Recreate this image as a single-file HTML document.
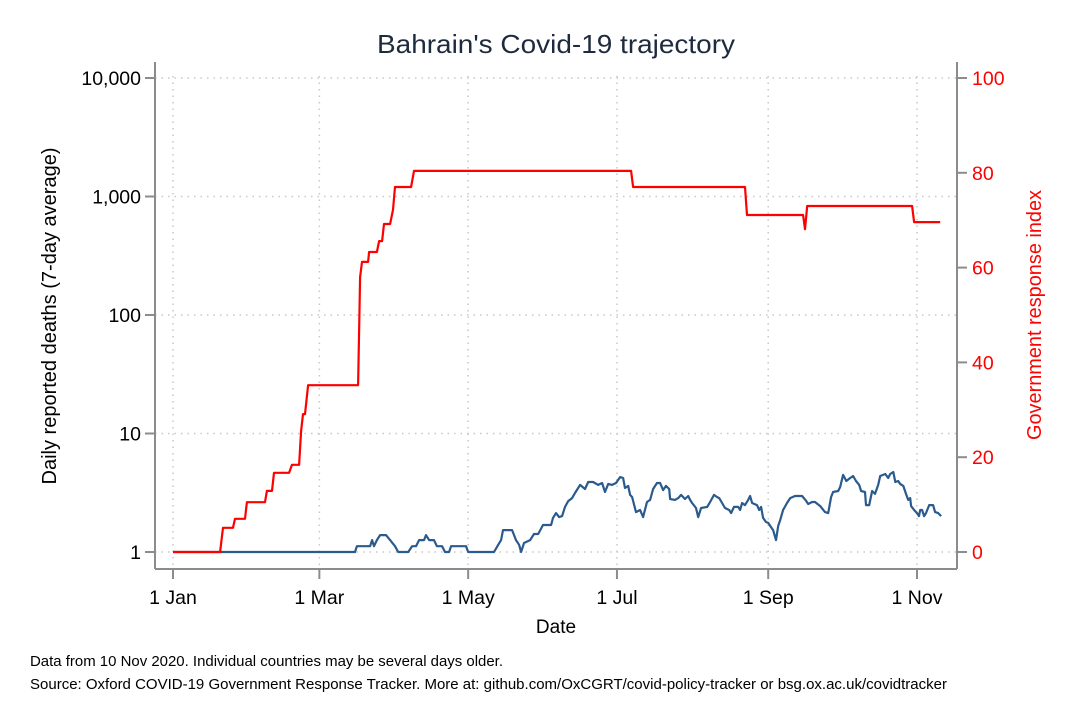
<!DOCTYPE html>
<html><head><meta charset="utf-8"><style>
body{margin:0;background:#fff;}
svg text{font-family:"Liberation Sans",Arial,sans-serif;}
</style></head><body>
<svg id="chart" width="1083" height="722" viewBox="0 0 1083 722" xmlns="http://www.w3.org/2000/svg">
<rect width="1083" height="722" fill="#fff"/>
<g id="grid"></g>
<g id="axes"></g>
<g id="series"></g>
<text x="556" y="53" font-size="26" fill="#1e2a3e" text-anchor="middle" textLength="358" lengthAdjust="spacingAndGlyphs">Bahrain's Covid-19 trajectory</text>
<text x="556" y="633" font-size="19" fill="#000" text-anchor="middle">Date</text>
<text transform="translate(56,316) rotate(-90)" font-size="20" fill="#000" text-anchor="middle" textLength="337" lengthAdjust="spacingAndGlyphs">Daily reported deaths (7-day average)</text>
<text transform="translate(1041,315) rotate(-90)" font-size="20" fill="#ff0000" text-anchor="middle" textLength="250" lengthAdjust="spacingAndGlyphs">Government response index</text>
<text x="30" y="666" font-size="14.5" fill="#000" textLength="473" lengthAdjust="spacingAndGlyphs">Data from 10 Nov 2020. Individual countries may be several days older.</text>
<text x="30" y="689" font-size="14.5" fill="#000" textLength="917" lengthAdjust="spacingAndGlyphs">Source: Oxford COVID-19 Government Response Tracker. More at: github.com/OxCGRT/covid-policy-tracker or bsg.ox.ac.uk/covidtracker</text>
</svg>
<script>
const xTickDays=[0,60,121,182,244,305];
const xTickLabels=["1 Jan","1 Mar","1 May","1 Jul","1 Sep","1 Nov"];
const leftTicks=[1,10,100,1000,10000];
const leftTickLabels=["1","10","100","1,000","10,000"];
const rightTicks=[0,20,40,60,80,100];
const redDays=[0,19.3,20.5,24.6,25.4,29.5,30.3,37.7,38.5,40.6,41.4,47.6,48.8,51.7,52.5,53.3,54.1,55.4,75.9,76.7,77.5,80,80.4,83.6,84.5,85.7,86.5,89,90.2,91,97.6,98.8,187.8,188.6,234.5,235.3,258.3,259.1,260,303,303.8,314.5];
const redValues=[0,0,5.1,5.1,7.0,7.0,10.5,10.5,12.9,12.9,16.7,16.7,18.4,18.4,25.5,29.1,29.1,35.2,35.2,58.0,61.2,61.2,63.3,63.3,65.6,65.6,69.2,69.2,72.2,77.0,77.0,80.4,80.4,77.0,77.0,71.1,71.1,68.1,73.0,73.0,69.6,69.6];
const blueDays=[0,74.6,75.4,80.8,81.6,82.4,83.6,84.9,87.3,89,91,92.3,96.4,98,99.6,100.9,102.9,103.7,105,107,108.2,110.3,111.5,113.2,114,120.1,121,131.6,133.3,134.5,135.3,139,140.6,141.9,142.7,143.9,146.4,148,149.7,151.7,155,155.8,157,158.3,159.5,160.7,162,163.6,164.8,166.9,168.9,170.2,172.2,174.3,175.9,177.1,178.4,180,181.6,183.3,184.5,185.3,186.6,187.4,188.2,189.8,191.5,192.7,194.3,195.6,196.8,198.4,199.7,200.9,202.1,203.4,203.8,205.8,207.1,208.3,209.9,211.2,212,212.8,214.4,215.3,216.5,219,220.2,221.8,223,223.9,225.1,226.3,228,228.8,230,231.7,232.5,233.3,234.5,235.8,236.6,237.4,239.4,240.3,241.1,241.9,243.1,244,244.8,246,247.2,248.1,248.9,250.1,251.7,253,255,257.9,259.6,260.4,262,263.2,265.3,267.3,268.6,269.8,270.6,272.7,273.5,274.7,276,277.6,278.8,280,281.3,282.1,283.7,284.1,285.4,286.6,287.8,289.1,289.9,292,293.2,294,295.3,296.1,297.3,298.1,299.4,300.5,301.4,302.2,302.6,303.8,305,305.8,306.3,307.1,307.9,308.7,310,311.6,312.4,313.7,314.9];
const blueValues=[1,1,1.12,1.12,1.26,1.12,1.26,1.39,1.39,1.26,1.12,1,1,1.12,1.12,1.26,1.26,1.39,1.26,1.26,1.12,1.12,1,1,1.12,1.12,1,1,1.15,1.26,1.53,1.53,1.26,1.15,1,1.19,1.26,1.42,1.42,1.69,1.69,1.94,2.13,1.97,2.01,2.40,2.69,2.85,3.15,3.68,3.40,3.90,3.90,3.68,3.82,3.21,3.75,3.68,3.82,4.29,4.21,3.47,3.61,3.03,2.91,2.17,2.26,1.97,2.64,2.75,3.40,3.82,3.82,3.33,3.61,3.40,2.80,2.75,2.85,3.03,2.80,2.97,2.75,2.59,2.35,1.97,2.35,2.40,2.64,3.03,2.91,2.85,2.59,2.35,2.26,2.13,2.40,2.40,2.26,2.59,2.49,2.75,2.97,2.59,2.49,2.26,2.40,1.94,1.79,1.76,1.66,1.53,1.26,1.66,1.86,2.26,2.59,2.85,2.97,2.97,2.69,2.54,2.64,2.64,2.44,2.17,2.13,2.91,3.21,3.27,3.54,4.47,3.97,4.21,4.38,3.97,3.68,3.27,3.21,2.49,2.49,3.27,3.09,3.68,4.38,4.55,4.21,4.55,4.73,3.90,3.97,3.75,3.61,3.09,2.75,2.85,2.44,2.26,2.13,2.01,2.26,2.26,2.01,2.13,2.49,2.49,2.17,2.13,2.01];

const NS="http://www.w3.org/2000/svg";
const L=155,R=957,B=569,T=62;
const xS=d=>173+d*(917-173)/305;
const yL=v=>552-118.5*Math.log10(v);
const yR=v=>552-v*4.74;
function mk(tag,at,parent){const e=document.createElementNS(NS,tag);for(const k in at)e.setAttribute(k,at[k]);parent.appendChild(e);return e;}
const grid=document.getElementById('grid'),axes=document.getElementById('axes'),ser=document.getElementById('series');
leftTicks.forEach(v=>{const g=mk('line',{x1:L,x2:R,y1:yL(v),y2:yL(v),stroke:'#c8c8c8','stroke-width':1.5,'stroke-dasharray':'1.5 5'},grid);

});
xTickDays.forEach(d=>{const g=mk('line',{x1:xS(d),x2:xS(d),y1:T+14,y2:B,stroke:'#c8c8c8','stroke-width':1.5,'stroke-dasharray':'1.5 5'},grid);

});
const al=[[L,T,L,B],[L,B,R,B],[R,T,R,B]];
al.forEach(a=>{const e=mk('line',{x1:a[0],y1:a[1],x2:a[2],y2:a[3],stroke:'#8c8c8c','stroke-width':2},axes);

});
leftTicks.forEach((v,i)=>{const y=yL(v);
const t=mk('line',{x1:L-10,x2:L,y1:y,y2:y,stroke:'#8c8c8c','stroke-width':2},axes);


const tx=mk('text',{x:L-14,y:y+7,'font-size':19.5,'text-anchor':'end',fill:'#000'},axes);tx.textContent=leftTickLabels[i];

});
rightTicks.forEach(v=>{const y=yR(v);
const t=mk('line',{x1:R,x2:R+10,y1:y,y2:y,stroke:'#8c8c8c','stroke-width':2},axes);


const tx=mk('text',{x:R+15,y:y+7,'font-size':19.5,fill:'#ff0000'},axes);tx.textContent=v;

});
xTickDays.forEach((d,i)=>{const x=xS(d);
const t=mk('line',{x1:x,x2:x,y1:B,y2:B+10,stroke:'#8c8c8c','stroke-width':2},axes);


const tx=mk('text',{x:x,y:B+35,'font-size':19.5,'text-anchor':'middle',fill:'#000'},axes);tx.textContent=xTickLabels[i];

});
const bp=mk('polyline',{points:blueDays.map((d,i)=>xS(d).toFixed(1)+','+yL(blueValues[i]).toFixed(1)).join(' '),fill:'none',stroke:'#2a5b8c','stroke-width':2.2,'stroke-linejoin':'round'},ser);


const rp=mk('polyline',{points:redDays.map((d,i)=>xS(d).toFixed(1)+','+yR(redValues[i]).toFixed(1)).join(' '),fill:'none',stroke:'#ff0000','stroke-width':2.2,'stroke-linejoin':'round'},ser);


</script>
</body></html>
